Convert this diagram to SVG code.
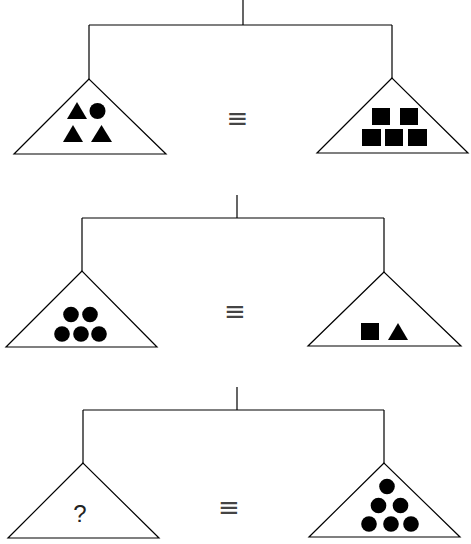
<svg xmlns="http://www.w3.org/2000/svg" width="471" height="544" viewBox="0 0 471 544">
<style>
.ln{stroke:#000;stroke-width:1.2;fill:none}
.pan{stroke:#000;stroke-width:1.2;fill:#fff;stroke-linejoin:miter}
.f{fill:#000}
.eq{font-family:"DejaVu Sans",sans-serif;font-size:26px;fill:#444;text-anchor:middle}
.q{font-family:"Liberation Sans",Arial,sans-serif;font-size:24px;fill:#222;text-anchor:middle}
</style>
<rect width="471" height="544" fill="#fff"/>
<g id="connectors">
<path class="ln" d="M243,0V25M89,25H392M89,25V79M392,25V78"/>
<path class="ln" d="M237,195V218M82,218H384M82,218V271M384,218V272"/>
<path class="ln" d="M237,387V410M83,410H384M83,410V463M384,410V463"/>
</g>
<g id="pan1-left">
<polygon class="pan" points="89,79 14,154 166,154"/>
<polygon class="f" points="67,119 87,119 77,102"/>
<circle class="f" cx="97.5" cy="111" r="8"/>
<polygon class="f" points="63,142 83,142 73,125"/>
<polygon class="f" points="91,142 112,142 101.5,125"/>
</g>
<g id="pan1-right">
<polygon class="pan" points="392,78 317,153 468,153"/>
<rect class="f" x="372" y="108" width="18" height="17"/>
<rect class="f" x="400" y="108" width="18" height="17"/>
<rect class="f" x="362" y="129" width="19" height="17"/>
<rect class="f" x="385" y="129" width="18" height="17"/>
<rect class="f" x="408" y="129" width="19" height="17"/>
</g>
<g id="pan2-left">
<polygon class="pan" points="82,271 6,347 157,347"/>
<circle class="f" cx="71" cy="314.5" r="7.8"/>
<circle class="f" cx="90" cy="314.5" r="7.8"/>
<circle class="f" cx="62" cy="334" r="7.8"/>
<circle class="f" cx="81" cy="334" r="7.8"/>
<circle class="f" cx="99" cy="334" r="7.8"/>
</g>
<g id="pan2-right">
<polygon class="pan" points="384,272 308,346 461,346"/>
<rect class="f" x="361" y="323" width="18" height="17"/>
<polygon class="f" points="388,340 408,340 398,323"/>
</g>
<g id="pan3-left">
<polygon class="pan" points="83,463 8,538 159,538"/>
<text class="q" x="80" y="522">?</text>
</g>
<g id="pan3-right">
<polygon class="pan" points="384,463 309,537 460,537"/>
<circle class="f" cx="387" cy="486.5" r="7.8"/>
<circle class="f" cx="378.5" cy="505.5" r="7.8"/>
<circle class="f" cx="400.5" cy="505.5" r="7.8"/>
<circle class="f" cx="369" cy="524" r="7.8"/>
<circle class="f" cx="391" cy="524" r="7.8"/>
<circle class="f" cx="411" cy="524" r="7.8"/>
</g>
<g id="equivalences">
<text class="eq" x="237.5" y="127">≡</text>
<text class="eq" x="235" y="320">≡</text>
<text class="eq" x="229" y="516">≡</text>
</g>
</svg>
